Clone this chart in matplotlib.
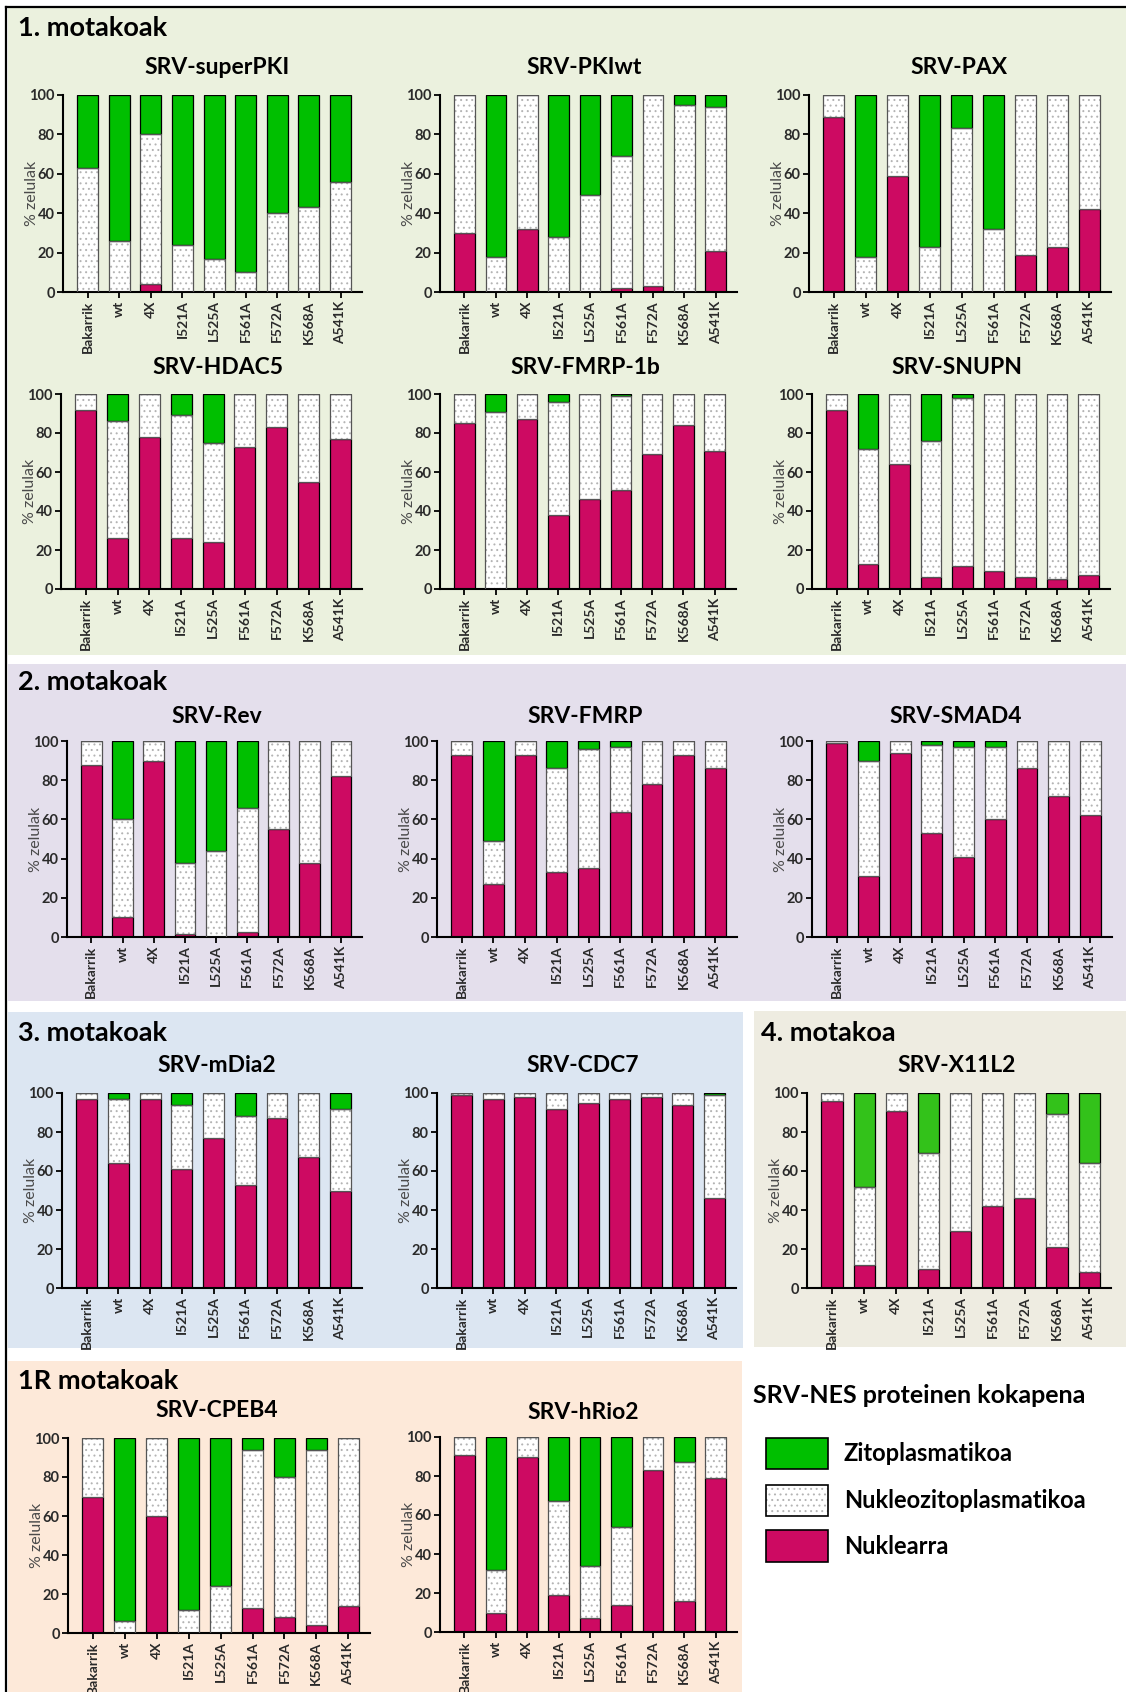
import matplotlib
matplotlib.use('Agg')
import matplotlib.pyplot as plt
from matplotlib.patches import Rectangle
from matplotlib.lines import Line2D
import numpy as np

plt.rcParams['font.family'] = ['Lato', 'DejaVu Sans']
plt.rcParams['hatch.linewidth'] = 0.7
plt.rcParams['hatch.color'] = '#b4b4b4'

W, H, DPI = 1126, 1692, 100

categories = ['Bakarrik', 'wt', '4X', 'I521A', 'L525A', 'F561A', 'F572A', 'K568A', 'A541K']
yticks = [0, 20, 40, 60, 80, 100]

# Percentages per construct: nuclear / nucleocytoplasmic / cytoplasmic
superpki_nuc = [0, 0, 4, 0, 0, 0, 0, 0, 0]
superpki_nc = [63, 26, 76, 24, 17, 10, 40, 43, 56]
superpki_cyt = [37, 74, 20, 76, 83, 90, 60, 57, 44]

pkiwt_nuc = [30, 0, 32, 0, 0, 2, 3, 0, 21]
pkiwt_nc = [70, 18, 68, 28, 49, 67, 97, 95, 73]
pkiwt_cyt = [0, 82, 0, 72, 51, 31, 0, 5, 6]

pax_nuc = [89, 0, 59, 0, 0, 0, 19, 23, 42]
pax_nc = [11, 18, 41, 23, 83, 32, 81, 77, 58]
pax_cyt = [0, 82, 0, 77, 17, 68, 0, 0, 0]

hdac5_nuc = [92, 26, 78, 26, 24, 73, 83, 55, 77]
hdac5_nc = [8, 60, 22, 63, 51, 27, 17, 45, 23]
hdac5_cyt = [0, 14, 0, 11, 25, 0, 0, 0, 0]

fmrp1b_nuc = [85, 0, 87, 38, 46, 51, 69, 84, 71]
fmrp1b_nc = [15, 91, 13, 58, 54, 48, 31, 16, 29]
fmrp1b_cyt = [0, 9, 0, 4, 0, 1, 0, 0, 0]

snupn_nuc = [92, 13, 64, 6, 12, 9, 6, 5, 7]
snupn_nc = [8, 59, 36, 70, 86, 91, 94, 95, 93]
snupn_cyt = [0, 28, 0, 24, 2, 0, 0, 0, 0]

rev_nuc = [88, 10, 90, 1.5, 0, 2.5, 55, 38, 82]
rev_nc = [12, 50, 10, 36.5, 44, 63.5, 45, 62, 18]
rev_cyt = [0, 40, 0, 62, 56, 34, 0, 0, 0]

fmrp_nuc = [93, 27, 93, 33, 35, 64, 78, 93, 86]
fmrp_nc = [7, 22, 7, 53, 61, 33, 22, 7, 14]
fmrp_cyt = [0, 51, 0, 14, 4, 3, 0, 0, 0]

smad4_nuc = [99, 31, 94, 53, 41, 60, 86, 72, 62]
smad4_nc = [1, 59, 6, 45, 56, 37, 14, 28, 38]
smad4_cyt = [0, 10, 0, 2, 3, 3, 0, 0, 0]

mdia2_nuc = [97, 64, 97, 61, 77, 53, 87, 67, 50]
mdia2_nc = [3, 33, 3, 33, 23, 35, 13, 33, 42]
mdia2_cyt = [0, 3, 0, 6, 0, 12, 0, 0, 8]

cdc7_nuc = [99, 97, 98, 92, 95, 97, 98, 94, 46]
cdc7_nc = [1, 3, 2, 8, 5, 3, 2, 6, 53]
cdc7_cyt = [0, 0, 0, 0, 0, 0, 0, 0, 1]

x11l2_nuc = [96, 12, 91, 10, 29, 42, 46, 21, 8]
x11l2_nc = [4, 40, 9, 59, 71, 58, 54, 68, 56]
x11l2_cyt = [0, 48, 0, 31, 0, 0, 0, 11, 36]

cpeb4_nuc = [70, 0, 60, 0, 0, 13, 8, 4, 14]
cpeb4_nc = [30, 6, 40, 12, 24, 81, 72, 90, 86]
cpeb4_cyt = [0, 94, 0, 88, 76, 6, 20, 6, 0]

hrio2_nuc = [91, 10, 90, 19, 7, 14, 83, 16, 79]
hrio2_nc = [9, 22, 10, 48, 27, 40, 17, 71, 21]
hrio2_cyt = [0, 68, 0, 33, 66, 46, 0, 13, 0]

MAGENTA = '#CD0A62'
GREEN = '#00BF00'
GREEN_X11 = '#33C21A'

fig = plt.figure(figsize=(W / DPI, H / DPI), dpi=DPI)
fig.patch.set_facecolor('white')


def fx(x):
    return x / W


def fy(y):
    return 1 - y / H


def band(x0, y0, x1, y1, color):
    fig.add_artist(Rectangle((fx(x0), fy(y1)), (x1 - x0) / W, (y1 - y0) / H,
                             transform=fig.transFigure, facecolor=color,
                             edgecolor='none', zorder=0))


# coloured group backgrounds
band(8, 8, 1126, 655, '#EBF1DE')
band(8, 664, 1126, 1001, '#E4DFEC')
band(8, 1012, 743, 1348, '#DCE6F2')
band(754, 1011, 1126, 1347, '#EEECE1')
band(8, 1361, 742, 1692, '#FDE9D9')

# outer frame (left and top edges)
fig.add_artist(Line2D([fx(6), fx(6)], [fy(7), fy(1692)], transform=fig.transFigure,
                      color='black', lw=1.6, zorder=5))
fig.add_artist(Line2D([fx(6), fx(1126)], [fy(7), fy(7)], transform=fig.transFigure,
                      color='black', lw=1.6, zorder=5))

group_titles = [('1. motakoak', 18, 28), ('2. motakoak', 18, 682), ('3. motakoak', 18, 1033),
                ('4. motakoa', 761, 1033), ('1R motakoak', 18, 1381)]
for txt, x, y in group_titles:
    fig.text(fx(x), fy(y), txt, fontsize=19.5, fontweight='bold', ha='left', va='center')

panels = [
    ('SRV-superPKI', superpki_nuc, superpki_nc, superpki_cyt, (63, 362, 95, 292), 217, 67, GREEN),
    ('SRV-PKIwt', pkiwt_nuc, pkiwt_nc, pkiwt_cyt, (440, 737, 95, 292), 584, 67, GREEN),
    ('SRV-PAX', pax_nuc, pax_nc, pax_cyt, (809, 1111, 95, 292), 959, 67, GREEN),
    ('SRV-HDAC5', hdac5_nuc, hdac5_nc, hdac5_cyt, (61, 362, 394, 589), 218, 367, GREEN),
    ('SRV-FMRP-1b', fmrp1b_nuc, fmrp1b_nc, fmrp1b_cyt, (440, 736, 394, 589), 585, 367, GREEN),
    ('SRV-SNUPN', snupn_nuc, snupn_nc, snupn_cyt, (812, 1110, 394, 589), 957, 367, GREEN),
    ('SRV-Rev', rev_nuc, rev_nc, rev_cyt, (67, 362, 741, 937), 217, 716, GREEN),
    ('SRV-FMRP', fmrp_nuc, fmrp_nc, fmrp_cyt, (437, 737, 741, 937), 585, 716, GREEN),
    ('SRV-SMAD4', smad4_nuc, smad4_nc, smad4_cyt, (812, 1112, 741, 937), 956, 716, GREEN),
    ('SRV-mDia2', mdia2_nuc, mdia2_nc, mdia2_cyt, (62, 362, 1093, 1288), 217, 1065, GREEN),
    ('SRV-CDC7', cdc7_nuc, cdc7_nc, cdc7_cyt, (437, 736, 1093, 1288), 583, 1065, GREEN),
    ('SRV-X11L2', x11l2_nuc, x11l2_nc, x11l2_cyt, (807, 1111, 1093, 1288), 957, 1065, GREEN_X11),
    ('SRV-CPEB4', cpeb4_nuc, cpeb4_nc, cpeb4_cyt, (68, 370, 1438, 1633), 217, 1410, GREEN),
    ('SRV-hRio2', hrio2_nuc, hrio2_nc, hrio2_cyt, (440, 737, 1437, 1632), 583, 1412, GREEN),
]

xpos = np.arange(len(categories))
BW = 0.66

for title, nuc, nc, cyt, (x0, x1, y0, y1), tx, ty, gcol in panels:
    ax = fig.add_axes([fx(x0), fy(y1), (x1 - x0) / W, (y1 - y0) / H])
    ax.set_facecolor('none')
    nuc = np.asarray(nuc, float)
    nc = np.asarray(nc, float)
    cyt = np.asarray(cyt, float)
    ax.bar(xpos, nuc, BW, color=MAGENTA, edgecolor='black', lw=0.9, zorder=2)
    ax.bar(xpos, nc, BW, bottom=nuc, color='white', hatch='...', lw=0, zorder=2)
    ax.bar(xpos, nc, BW, bottom=nuc, fill=False, edgecolor='#555555', lw=0.9, zorder=3)
    ax.bar(xpos, cyt, BW, bottom=nuc + nc, color=gcol, edgecolor='black', lw=0.9, zorder=2)
    ax.set_xlim(-0.78, len(categories) - 1 + 0.68)
    ax.set_ylim(0, 100)
    ax.set_yticks(yticks)
    ax.set_xticks(xpos)
    ax.set_xticklabels(categories, rotation=90)
    for s in ('top', 'right'):
        ax.spines[s].set_visible(False)
    for s in ('left', 'bottom'):
        ax.spines[s].set_linewidth(1.5)
    ax.tick_params(axis='y', labelsize=10.5)
    ax.tick_params(axis='x', labelsize=10)
    ax.tick_params(axis='both', direction='out', length=4, width=1.3, colors='black',
                   labelcolor='#2a2a2a', pad=2)
    for lab in ax.get_xticklabels() + ax.get_yticklabels():
        lab.set_fontweight('bold')
    ax.set_ylabel('% zelulak', fontsize=11.5, color='#4a4a4a', va='center')
    ax.yaxis.set_label_coords(-31 / (x1 - x0), 0.5)
    fig.text(fx(tx), fy(ty), title, fontsize=16.5, fontweight='bold', ha='center', va='center')

# legend
fig.text(fx(753), fy(1395), 'SRV-NES proteinen kokapena', fontsize=18, fontweight='bold',
         ha='left', va='center')
legend_items = [('Zitoplasmatikoa', GREEN, None, 1438, 1469),
                ('Nukleozitoplasmatikoa', 'white', '...', 1485, 1516),
                ('Nuklearra', MAGENTA, None, 1530, 1562)]
for label, col, hatch, ya, yb in legend_items:
    fig.add_artist(Rectangle((fx(766), fy(yb)), 62 / W, (yb - ya) / H, transform=fig.transFigure,
                             facecolor=col, hatch=hatch, lw=0, zorder=2))
    fig.add_artist(Rectangle((fx(766), fy(yb)), 62 / W, (yb - ya) / H, transform=fig.transFigure,
                             fill=False, edgecolor='black', lw=1.2, zorder=3))
    fig.text(fx(844), fy((ya + yb) / 2), label, fontsize=17, fontweight='bold',
             ha='left', va='center')

fig.savefig('out.png', dpi=DPI)
